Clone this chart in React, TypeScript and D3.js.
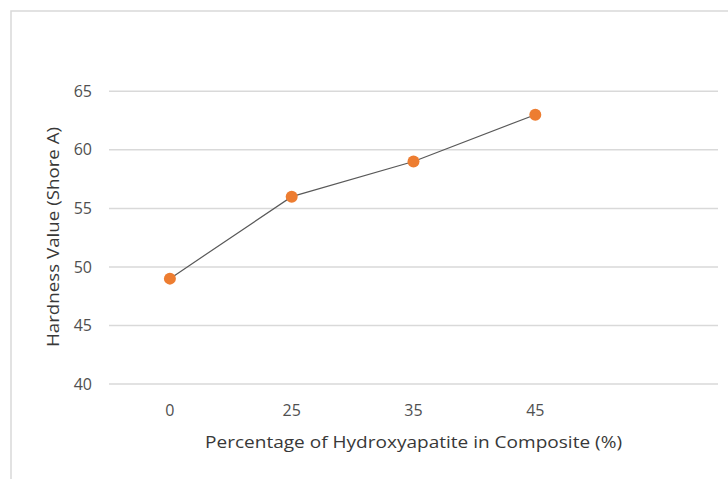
import React from "react";
import * as d3 from "d3";

const categories = ["0", "25", "35", "45", ""];
const hardness = [49, 56, 59, 63];
const yTicks = [40, 45, 50, 55, 60, 65];
const xTitle = "Percentage of Hydroxyapatite in Composite (%)";
const yTitle = "Hardness Value (Shore A)";

const W = 728;
const H = 479;
const font = "'Open Sans', 'Noto Sans', sans-serif";

export default function App() {
  const x = d3.scaleBand<string>().domain(categories).range([109, 718]);
  const y = d3.scaleLinear().domain([40, 65]).range([384, 91.3]);
  const cx = (i: number) => (x(categories[i]) as number) + x.bandwidth() / 2;
  const line = d3
    .line<number>()
    .x((_, i) => cx(i))
    .y((d) => y(d));

  return (
    <svg
      width={W}
      height={H}
      style={{ position: "absolute", left: 0, top: 0, background: "#fff" }}
    >
      <rect x={0} y={0} width={W} height={H} fill="#fff" />
      <rect x={11} y={11} width={W + 20} height={H + 20} fill="#fff" stroke="#d9d9d9" strokeWidth={1.5} />
      {yTicks.map((t) => (
        <g key={t}>
          <line x1={109} x2={718} y1={y(t)} y2={y(t)} stroke="#d9d9d9" strokeWidth={1.5} />
          <text
            x={92}
            y={y(t)}
            dy="0.35em"
            textAnchor="end"
            fontFamily={font}
            fontSize={16}
            fill="#505050"
          >
            {t}
          </text>
        </g>
      ))}
      {categories.map((c) => (
        <text
          key={c}
          x={(x(c) as number) + x.bandwidth() / 2}
          y={410}
          dy="0.35em"
          textAnchor="middle"
          fontFamily={font}
          fontSize={16}
          fill="#505050"
        >
          {c}
        </text>
      ))}
      <path d={line(hardness) || ""} fill="none" stroke="#595959" strokeWidth={1.2} />
      {hardness.map((v, i) => (
        <circle key={i} cx={cx(i)} cy={y(v)} r={6} fill="#ED7D31" />
      ))}
      <text
        x={413.5}
        y={442}
        dy="0.35em"
        textAnchor="middle"
        fontFamily={font}
        fontSize={17}
        fill="#383838"
        textLength={417}
        lengthAdjust="spacingAndGlyphs"
      >
        {xTitle}
      </text>
      <text
        transform={`translate(53,237) rotate(-90)`}
        dy="0.35em"
        textAnchor="middle"
        fontFamily={font}
        fontSize={17}
        fill="#383838"
        textLength={220}
        lengthAdjust="spacingAndGlyphs"
      >
        {yTitle}
      </text>
    </svg>
  );
}
